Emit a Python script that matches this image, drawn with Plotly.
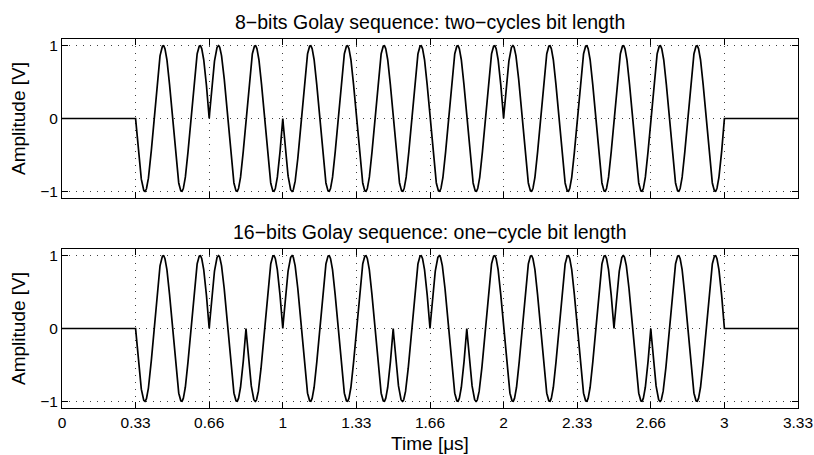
"""Golay-coded burst waveforms, two stacked panels."""

import numpy as np
import plotly.graph_objects as go

bits_8 = [-1, 1, -1, -1, -1, 1, 1, 1]
bits_16 = [-1, -1, 1, -1, 1, 1, 1, -1, 1, -1, -1, -1, -1, 1, -1, -1]

t_start_us = 1 / 3          # burst starts here
t_end_us = 3.0              # burst ends here
t_max_us = 10 / 3           # axis end
carrier_mhz = 6.0           # 16 cycles in 2.67 us
cycles_per_bit_8 = 2
cycles_per_bit_16 = 1

x_tick_vals = [k / 3 for k in range(11)]
x_tick_text = ["0", "0.33", "0.66", "1", "1.33", "1.66", "2", "2.33", "2.66", "3", "3.33"]
y_tick_vals = [-1, 0, 1]
y_tick_text = ["\u22121", "0", "1"]

titles = [
    "8\u2212bits Golay sequence: two\u2212cycles bit length",
    "16\u2212bits Golay sequence: one\u2212cycle bit length",
]

FONT = "Liberation Sans, Arial, Helvetica, sans-serif"


def burst(bits, cycles_per_bit, samples_per_cycle=240):
    bit_len = cycles_per_bit / carrier_mhz
    n = len(bits) * cycles_per_bit * samples_per_cycle
    t = np.linspace(0, len(bits) * bit_len, n + 1)
    idx = np.minimum((t / bit_len).astype(int), len(bits) - 1)
    y = np.asarray(bits)[idx] * np.sin(2 * np.pi * carrier_mhz * t)
    t = np.concatenate([[0.0], t + t_start_us, [t_max_us]])
    y = np.concatenate([[0.0], y, [0.0]])
    return t, y


def axis_style(**extra):
    style = dict(
        showline=True, linecolor="black", linewidth=1, mirror="ticks",
        ticks="inside", ticklen=6, tickcolor="black", tickwidth=1,
        showgrid=True, gridcolor="rgba(0,0,0,0.75)", gridwidth=1, griddash="1px,6px",
        zeroline=False, automargin=False, tickfont=dict(family=FONT, size=15.5, color="black"),
    )
    style.update(extra)
    return style


fig = go.Figure()
for i, (bits, cpb) in enumerate([(bits_8, cycles_per_bit_8), (bits_16, cycles_per_bit_16)]):
    t, y = burst(bits, cpb)
    suffix = "" if i == 0 else str(i + 1)
    fig.add_trace(go.Scatter(x=t, y=y, mode="lines", line=dict(color="black", width=1.7),
                             xaxis="x" + suffix, yaxis="y" + suffix, showlegend=False))

y_title = dict(text="Amplitude [V]", font=dict(family=FONT, size=19, color="black"), standoff=9)
fig.update_layout(
    width=814, height=455,
    margin=dict(l=62, r=16, t=39, b=47),
    paper_bgcolor="white", plot_bgcolor="white",
    xaxis=axis_style(domain=[0, 1], range=[0, t_max_us], tickvals=x_tick_vals, showticklabels=False, anchor="y"),
    yaxis=axis_style(domain=[0.569, 1], range=[-1.09, 1.09], tickvals=y_tick_vals, ticktext=y_tick_text,
                     anchor="x", title=y_title),
    xaxis2=axis_style(domain=[0, 1], range=[0, t_max_us], tickvals=x_tick_vals, ticktext=x_tick_text, anchor="y2",
                      title=dict(text="Time [\u03bcs]", font=dict(family=FONT, size=19, color="black"), standoff=7)),
    yaxis2=axis_style(domain=[0, 0.431], range=[-1.09, 1.09], tickvals=y_tick_vals, ticktext=y_tick_text,
                      anchor="x2", title=y_title),
    annotations=[
        dict(text=titles[0], xref="paper", yref="paper", x=0.5, y=1.0, yanchor="bottom", yshift=4,
             showarrow=False, font=dict(family=FONT, size=19.5, color="black")),
        dict(text=titles[1], xref="paper", yref="paper", x=0.5, y=0.431, yanchor="bottom", yshift=4,
             showarrow=False, font=dict(family=FONT, size=19.5, color="black")),
    ],
)

# drop the default page margin so the 814x455 figure fills the window exactly
fig.write_html("out.html", config={"displayModeBar": False},
               post_script="document.body.style.margin='0';document.body.style.overflow='hidden';")
